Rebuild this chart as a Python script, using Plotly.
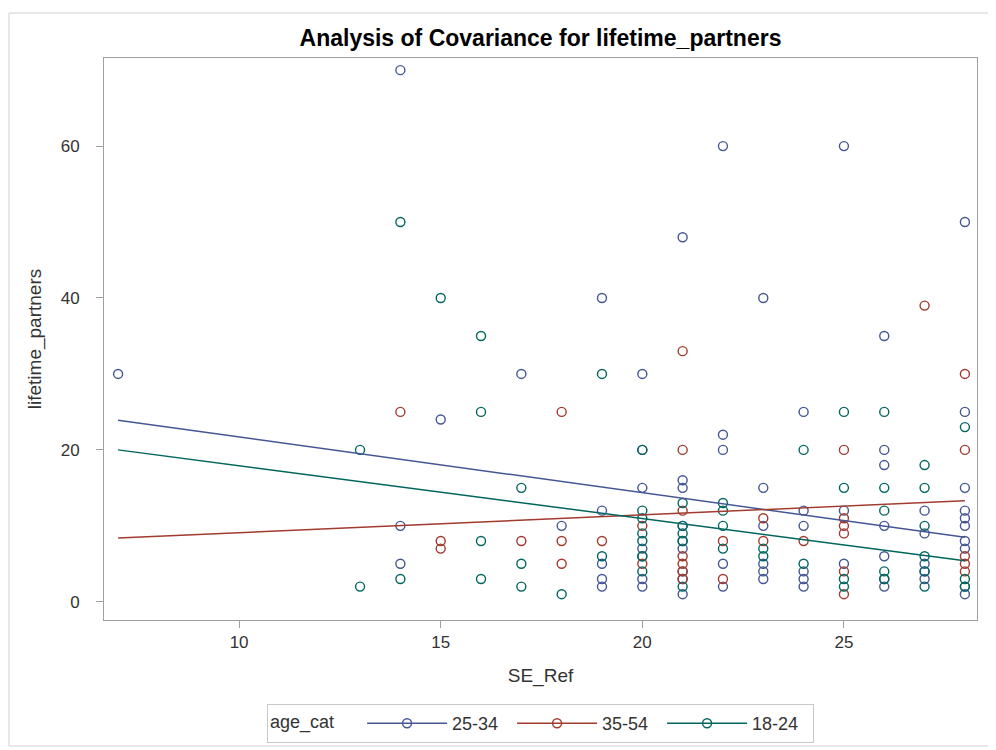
import plotly.graph_objects as go

# ---- data ----
groups = ["25-34", "35-54", "18-24"]
colors = ["#445694", "#A23A2E", "#01665E"]

se_ref_2534 = [7, 14, 14, 14, 15, 17, 18, 19, 19, 19, 19, 19,
               20, 20, 20, 20, 20, 20, 20,
               21, 21, 21, 21, 21, 21, 21, 21, 21,
               22, 22, 22, 22, 22,
               23, 23, 23, 23, 23, 23,
               24, 24, 24, 24, 24, 24,
               25, 25, 25,
               26, 26, 26, 26, 26, 26, 26,
               27, 27, 27, 27, 27,
               28, 28, 28, 28, 28, 28, 28, 28, 28, 28]
lp_2534 = [30, 70, 10, 5, 24, 30, 10, 40, 12, 5, 3, 2,
           30, 20, 15, 7, 6, 3, 2,
           48, 16, 15, 10, 8, 7, 4, 3, 1,
           60, 22, 20, 5, 2,
           40, 15, 10, 5, 4, 3,
           25, 12, 10, 4, 3, 2,
           60, 12, 5,
           35, 20, 18, 10, 6, 3, 2,
           12, 9, 5, 4, 3,
           50, 25, 15, 12, 11, 10, 8, 7, 2, 1]

se_ref_3554 = [14, 15, 15, 17, 18, 18, 18, 19, 20, 20,
               21, 21, 21, 21, 21, 21, 21,
               22, 22, 23, 23, 24,
               25, 25, 25, 25, 25, 25,
               27, 28, 28, 28, 28, 28]
lp_3554 = [25, 8, 7, 8, 25, 8, 5, 8, 10, 5,
           33, 20, 12, 6, 5, 4, 3,
           8, 3, 11, 8, 8,
           20, 11, 10, 9, 4, 1,
           39, 30, 20, 6, 5, 4]

se_ref_1824 = [13, 13, 14, 14, 15, 16, 16, 16, 16, 17, 17, 17, 18,
               19, 19, 20, 20, 20, 20, 20, 20, 20,
               21, 21, 21, 21, 21,
               22, 22, 22, 22, 23, 23,
               24, 24, 25, 25, 25, 25,
               26, 26, 26, 26, 26,
               27, 27, 27, 27, 27, 27,
               28, 28, 28]
lp_1824 = [20, 2, 50, 3, 40, 35, 25, 8, 3, 15, 5, 2, 1,
           30, 6, 20, 12, 11, 9, 8, 6, 4,
           13, 10, 9, 8, 2,
           13, 12, 10, 7, 7, 6,
           20, 5, 25, 15, 3, 2,
           25, 15, 12, 4, 3,
           18, 15, 10, 6, 4, 2,
           23, 3, 2]

# fitted ANCOVA lines (end points)
fit_x = [7, 28]
fit_2534 = [23.9, 8.5]
fit_3554 = [8.4, 13.3]
fit_1824 = [20.0, 5.4]

x_ticks = [10, 15, 20, 25]
y_ticks = [0, 20, 40, 60]

xs = [se_ref_2534, se_ref_3554, se_ref_1824]
ys = [lp_2534, lp_3554, lp_1824]
fits = [fit_2534, fit_3554, fit_1824]

FONT = "Liberation Sans, Arial, sans-serif"
fig = go.Figure()

for g, c, x, y in zip(groups, colors, xs, ys):
    fig.add_trace(go.Scatter(
        x=x, y=y, mode="markers", name=g, showlegend=False,
        marker=dict(symbol="circle-open", size=9, color=c, line=dict(width=1.4, color=c)),
    ))

for g, c, f in zip(groups, colors, fits):
    fig.add_trace(go.Scatter(
        x=fit_x, y=f, mode="lines", name=g, showlegend=False,
        line=dict(color=c, width=1.5),
    ))

for g, c in zip(groups, colors):
    fig.add_trace(go.Scatter(
        x=[None], y=[None], mode="lines+markers", name=g,
        line=dict(color=c, width=1.5),
        marker=dict(symbol="circle-open", size=9, color=c, line=dict(width=1.4, color=c)),
    ))

axis_common = dict(
    showgrid=False, zeroline=False, showline=True, mirror=True,
    linecolor="#a0a0a0", linewidth=1,
    ticks="outside", ticklen=7, tickcolor="#a0a0a0", tickwidth=1,
    tickfont=dict(family=FONT, size=17, color="#333333"),
)

# the page body adds an 8px offset, so the figure is sized to fit the window
W, H = 988, 742
fig.update_layout(
    width=W, height=H,
    paper_bgcolor="white", plot_bgcolor="white",
    margin=dict(l=96, r=19, t=50, b=130),
    title=dict(
        text="<b>Analysis of Covariance for lifetime_partners</b>",
        x=0.5, xref="paper", xanchor="center",
        y=1 - 30 / H, yref="container", yanchor="middle",
        font=dict(family=FONT, size=23, color="black"),
    ),
    xaxis=dict(
        range=[6.65, 28.3], tickvals=x_ticks,
        title=dict(text="SE_Ref", font=dict(family=FONT, size=19, color="#333333"), standoff=17),
        **axis_common,
    ),
    yaxis=dict(
        range=[-2.4, 71.6], tickvals=y_ticks, ticklabelstandoff=13,
        title=dict(text="lifetime_partners", font=dict(family=FONT, size=19, color="#333333"), standoff=14),
        **axis_common,
    ),
    legend=dict(
        orientation="h", x=0.5, xanchor="center", xref="paper",
        y=(H - 696) / H, yanchor="top", yref="container",
        title=dict(text="age_cat    ", side="left", font=dict(family=FONT, size=18, color="#333333")),
        font=dict(family=FONT, size=18, color="#333333"),
        bordercolor="#c8c8c8", borderwidth=1, bgcolor="white",
        itemwidth=80, entrywidth=55, entrywidthmode="pixels",
    ),
    showlegend=True,
)

# outer frame around the whole graph
fig.add_shape(type="rect", xref="paper", yref="paper",
              x0=-0.1088, x1=1.0149, y0=-0.2242, y1=1.080,
              line=dict(color="#d0d0d0", width=1), layer="below")

fig.write_html("out.html")
